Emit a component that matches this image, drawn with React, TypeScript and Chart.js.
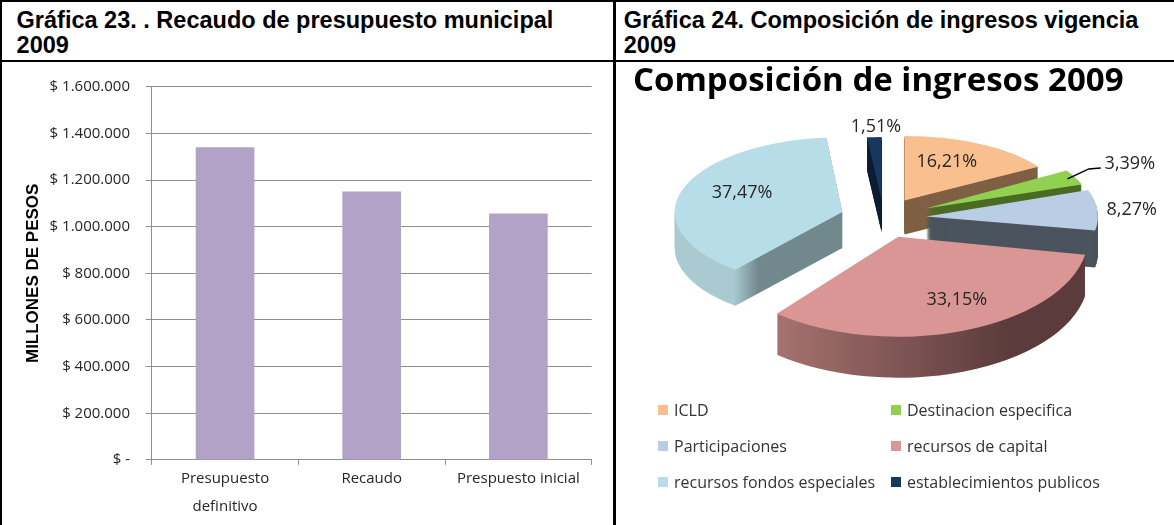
import React, { useEffect, useRef } from 'react';
import { Chart, registerables } from 'chart.js';

Chart.register(...registerables);

// ---------------- data ----------------
const barCategories: (string | string[])[] = [['Presupuesto', 'definitivo'], 'Recaudo', 'Prespuesto inicial'];
const barValues = [1340000, 1151000, 1056000];
const yMin = 0;
const yMax = 1600000;
const yStep = 200000;
const yAxisTitle = 'MILLONES DE PESOS';

const pieTitle = 'Composición de ingresos 2009';
const pieLabels = [
  'ICLD',
  'Destinacion especifica',
  'Participaciones',
  'recursos de capital',
  'recursos fondos especiales',
  'establecimientos publicos',
];
const pieValues = [16.21, 3.39, 8.27, 33.15, 37.47, 1.51];

const header1 = ['Gráfica 23. . Recaudo de presupuesto municipal', '2009'];
const header2 = ['Gráfica 24. Composición de ingresos vigencia', '2009'];

// ---------------- styles ----------------
const barColor = '#B3A2C7';
const gridColor = '#8E8E8E';
const pieTopColors = ['#F9BF8F', '#92D050', '#B9CDE5', '#D99694', '#B7DEE8', '#17375E'];
const pieSideColors: (string | string[])[] = [
  '#7F6044',
  '#4B6B25',
  '#4B545E',
  ['#A67371', '#5B3B3B'],
  ['#AACAD2', '#71888D'],
  '#0D1F35',
];
const explode = [43, 47, 43, 43, 43, 40];
const labelRadius = [0.656, 1.38, 1.2, 0.704, 0.651, 1.16];
const labelAngleShift = [-4.9, -1.0, 0.7, -6, 6, 0.9];
const PIE = { R0: 173, k0: 0.466, persp: 0.105, perspK: 0.137, depth: 37 };

const fmtMoney = (v: number) => {
  if (v === 0) return '$ -';
  const s = Math.round(v).toString().replace(/\B(?=(\d{3})+(?!\d))/g, '.');
  return '$ ' + s;
};
const fmtPct = (v: number) => v.toFixed(2).replace('.', ',') + '%';

function midOf(arc: any) {
  return (arc.startAngle + arc.endAngle) / 2;
}

function sliceGeom(arc: any, i: number) {
  const mid = midOf(arc);
  const front = Math.sin(mid);
  const s = 1 + PIE.persp * front;
  const k = PIE.k0 * (1 + PIE.perspK * front);
  const e = explode[i];
  const ax = arc.x + e * Math.cos(mid);
  const ay = arc.y + e * Math.sin(mid) * PIE.k0;
  return { mid, s, k, ax, ay, depth: PIE.depth * s };
}

function drawArcAt(ctx: CanvasRenderingContext2D, arc: any, g: any, dy: number, fill: any) {
  ctx.save();
  ctx.translate(g.ax, g.ay + dy);
  ctx.scale(g.s, g.s * g.k);
  ctx.translate(-arc.x, -arc.y);
  const orig = arc.options;
  arc.options = Object.assign({}, orig, { backgroundColor: fill, borderWidth: 0, offset: 0 });
  arc.draw(ctx);
  arc.options = orig;
  ctx.restore();
}

function sideFill(ctx: CanvasRenderingContext2D, arc: any, i: number) {
  const c = pieSideColors[i];
  if (typeof c === 'string') return c;
  const R = PIE.R0;
  let grad;
  if (i === 4) {
    grad = ctx.createLinearGradient(arc.x - R, 0, arc.x, 0);
    grad.addColorStop(0, c[0]);
    grad.addColorStop(0.35, c[0]);
    grad.addColorStop(0.5, c[1]);
    grad.addColorStop(1, c[1]);
  } else {
    grad = ctx.createLinearGradient(arc.x - R * 0.65, 0, arc.x + R, 0);
    grad.addColorStop(0, c[0]);
    grad.addColorStop(0.75, c[1]);
    grad.addColorStop(1, c[1]);
  }
  return grad;
}

const pie3d = {
  id: 'pie3d',
  beforeDatasetsDraw(chart: any) {
    const ctx = chart.ctx as CanvasRenderingContext2D;
    const arcs = chart.getDatasetMeta(0).data;
    const order = arcs.map((_: any, i: number) => i).sort(
      (a: number, b: number) => Math.sin(midOf(arcs[a])) - Math.sin(midOf(arcs[b]))
    );
    for (const i of order) {
      const arc = arcs[i];
      const g = sliceGeom(arc, i);
      const side = sideFill(ctx, arc, i);
      for (let d = Math.round(g.depth); d >= 1; d--) drawArcAt(ctx, arc, g, d, side);
      drawArcAt(ctx, arc, g, 0, pieTopColors[i]);
    }
    return false;
  },
  afterDraw(chart: any) {
    const ctx = chart.ctx as CanvasRenderingContext2D;
    const arcs = chart.getDatasetMeta(0).data;
    ctx.save();
    ctx.font = '18px "Open Sans"';
    ctx.fillStyle = '#262626';
    ctx.textAlign = 'center';
    ctx.textBaseline = 'middle';
    arcs.forEach((arc: any, i: number) => {
      const g = sliceGeom(arc, i);
      const th = g.mid + (labelAngleShift[i] * Math.PI) / 180;
      const r = labelRadius[i] * PIE.R0 * g.s;
      const x = g.ax + r * Math.cos(th);
      const y = g.ay + r * Math.sin(th) * g.k;
      ctx.fillText(fmtPct(pieValues[i]), x, y);
      if (i === 1) {
        const r0 = 0.95 * PIE.R0 * g.s;
        const sx = g.ax + r0 * Math.cos(g.mid);
        const sy = g.ay + r0 * Math.sin(g.mid) * g.k;
        ctx.beginPath();
        ctx.strokeStyle = '#000';
        ctx.lineWidth = 1.5;
        ctx.moveTo(sx, sy);
        ctx.lineTo(x - 41, y + 5);
        ctx.lineTo(x - 29, y + 4);
        ctx.stroke();
      }
    });
    ctx.restore();
  },
};

export default function App() {
  const barRef = useRef<HTMLCanvasElement>(null);
  const pieRef = useRef<HTMLCanvasElement>(null);

  useEffect(() => {
    const tickFont = { family: '"Open Sans"', size: 15 };
    const bar = new Chart(barRef.current!, {
      type: 'bar',
      data: {
        labels: barCategories,
        datasets: [
          {
            data: barValues,
            backgroundColor: barColor,
            barPercentage: 0.4,
            categoryPercentage: 1,
          },
        ],
      },
      options: {
        animation: false,
        responsive: false,
        devicePixelRatio: 1,
        layout: { padding: { top: 16.3, right: 21.3, left: 0, bottom: 0 } },
        plugins: { legend: { display: false }, tooltip: { enabled: false } },
        scales: {
          x: {
            grid: { display: true, drawOnChartArea: false, drawTicks: true, tickLength: 5, color: gridColor, offset: true },
            border: { color: gridColor },
            ticks: {
              font: { ...tickFont, lineHeight: 1.85 },
              color: '#262626',
              padding: 0,
              maxRotation: 0,
              autoSkip: false,
            },
            afterFit: (s: any) => {
              s.height = 65.1;
            },
          },
          y: {
            min: yMin,
            max: yMax,
            ticks: {
              stepSize: yStep,
              callback: (v: any) => fmtMoney(Number(v)),
              font: tickFont,
              color: '#262626',
              padding: 15.7,
            },
            grid: { color: gridColor, tickLength: 6 },
            border: { color: gridColor },
            title: {
              display: true,
              text: yAxisTitle,
              font: { family: '"Liberation Sans", Arial', weight: 'bold', size: 17 },
              color: '#000',
              padding: { top: 20.8, bottom: 0 },
            },
            afterFit: (s: any) => {
              s.width = 149.7;
            },
          },
        },
      } as any,
    });

    const pie = new Chart(pieRef.current!, {
      type: 'pie',
      data: {
        labels: pieLabels,
        datasets: [
          {
            data: pieValues,
            backgroundColor: pieTopColors,
            borderWidth: 0,
            radius: PIE.R0,
          } as any,
        ],
      },
      options: {
        animation: false,
        responsive: false,
        devicePixelRatio: 1,
        layout: { padding: { left: 16, right: 40, top: 0, bottom: 190.6 } },
        plugins: {
          legend: { display: false },
          tooltip: { enabled: false },
          title: {
            display: true,
            text: pieTitle,
            align: 'start',
            color: '#000',
            font: { family: '"Open Sans"', weight: 'bold', size: 33, lineHeight: 1.2 },
            padding: { top: 0, bottom: 0 },
          },
        },
      } as any,
      plugins: [pie3d as any],
    });

    return () => {
      bar.destroy();
      pie.destroy();
    };
  }, []);

  const headStyle: React.CSSProperties = {
    position: 'absolute',
    top: 7.8,
    fontFamily: '"Liberation Sans", Arial, sans-serif',
    fontWeight: 'bold',
    fontSize: 23.5,
    lineHeight: '25px',
    whiteSpace: 'nowrap',
    color: '#000',
  };
  const line = (l: number, t: number, w: number, h: number): React.CSSProperties => ({
    position: 'absolute',
    left: l,
    top: t,
    width: w,
    height: h,
    background: '#000',
  });
  const legendCols = [658, 891];
  const legendRows = [410, 446, 482];

  return (
    <div
      style={{
        position: 'fixed',
        left: 0,
        top: 0,
        width: 1174,
        height: 525,
        background: '#fff',
        overflow: 'hidden',
      }}
    >
      <div style={line(0, 0, 1174, 2)} />
      <div style={line(0, 0, 2, 525)} />
      <div style={line(613, 0, 3, 525)} />
      <div style={line(0, 60, 1174, 2)} />
      <div style={{ ...headStyle, left: 16.6 }}>
        {header1[0]}
        <br />
        {header1[1]}
      </div>
      <div style={{ ...headStyle, left: 623.8 }}>
        {header2[0]}
        <br />
        {header2[1]}
      </div>
      <canvas
        ref={barRef}
        width={611}
        height={463}
        style={{ position: 'absolute', left: 2, top: 62, width: 611, height: 463 }}
      />
      <canvas
        ref={pieRef}
        width={557}
        height={463}
        style={{ position: 'absolute', left: 617, top: 62, width: 557, height: 463 }}
      />
      {pieLabels.map((lab, i) => {
        const col = i % 2;
        const row = Math.floor(i / 2);
        return (
          <div
            key={lab}
            style={{
              position: 'absolute',
              left: legendCols[col],
              top: legendRows[row] - 12,
              height: 24,
              display: 'flex',
              alignItems: 'center',
              whiteSpace: 'nowrap',
              fontFamily: '"Open Sans", sans-serif',
              fontSize: 16,
              color: '#333',
            }}
          >
            <span
              style={{ display: 'inline-block', width: 10, height: 10, background: pieTopColors[i], marginRight: 6 }}
            />
            <span>{lab}</span>
          </div>
        );
      })}
    </div>
  );
}
